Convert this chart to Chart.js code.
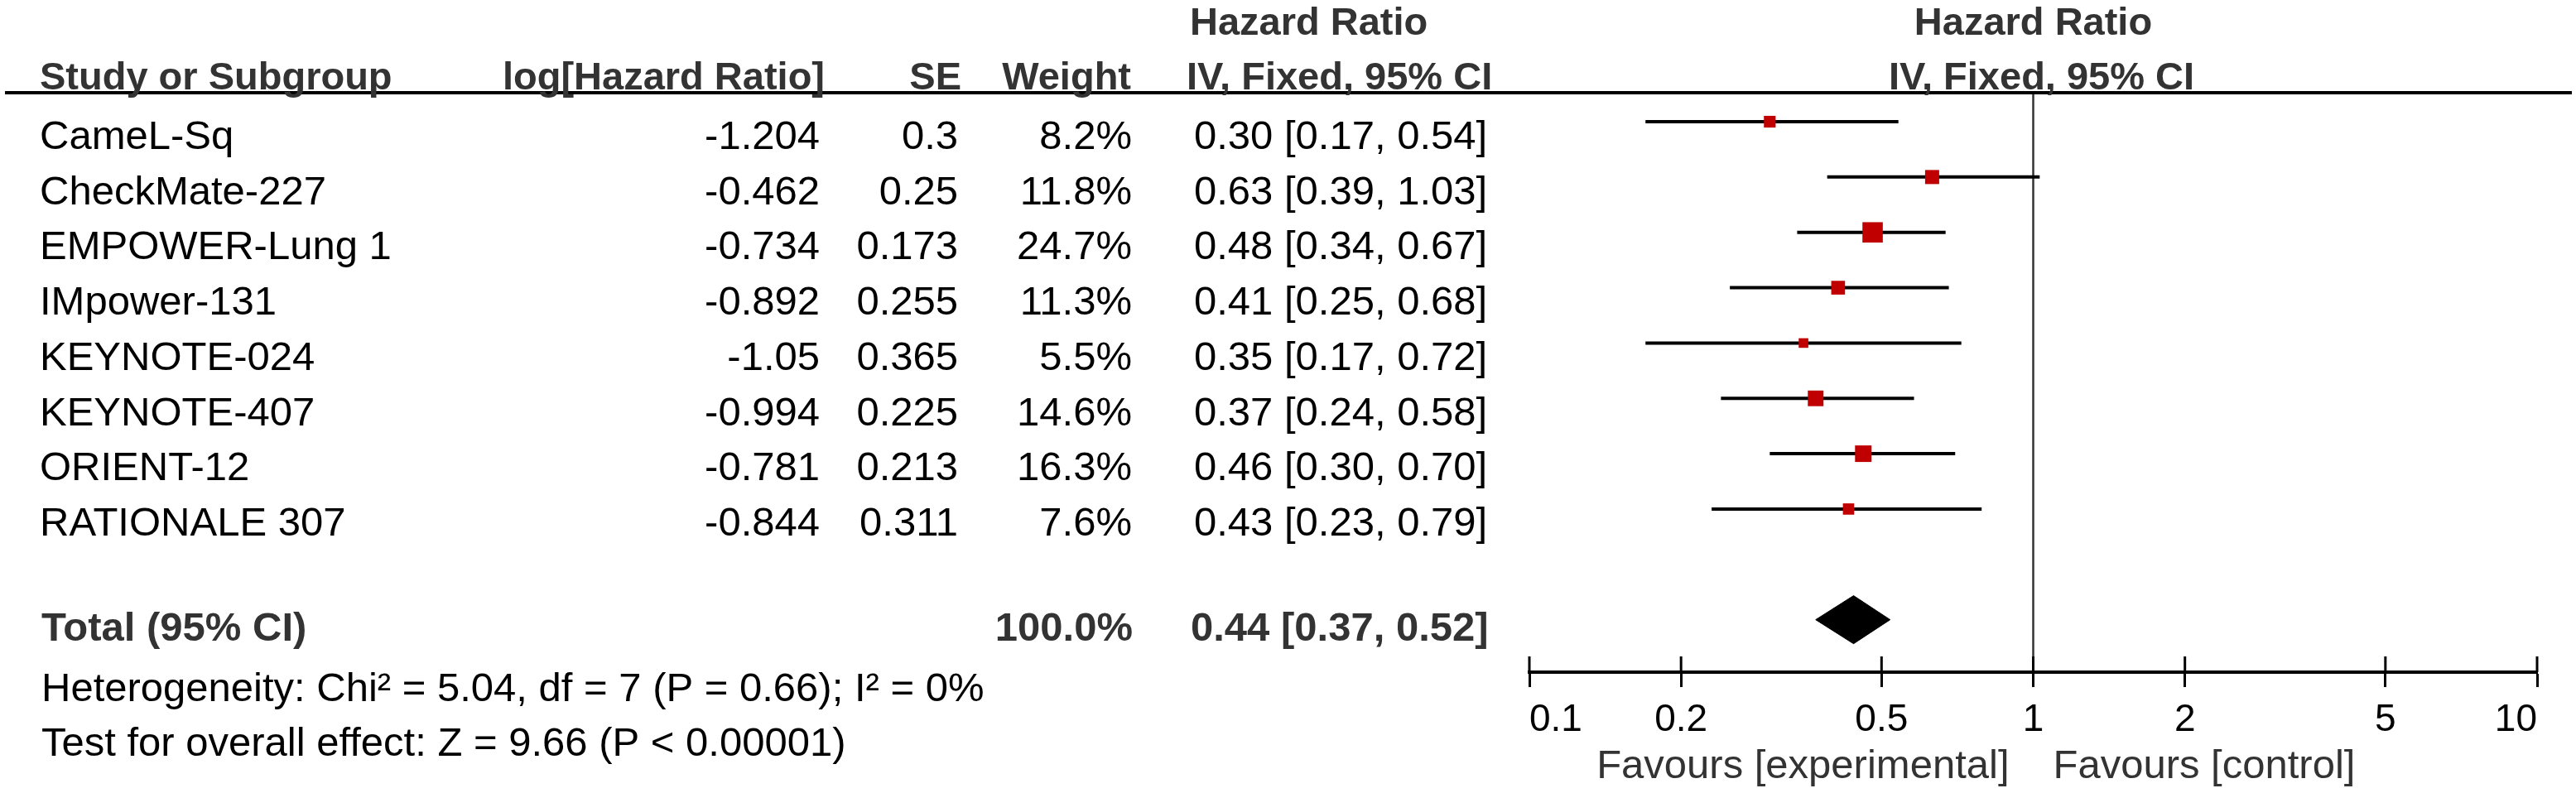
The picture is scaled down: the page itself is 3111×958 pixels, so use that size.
<!DOCTYPE html>
<html>
<head>
<meta charset="utf-8">
<script src="https://cdn.jsdelivr.net/npm/chart.js@4"></script>
<style>
  html, body { margin: 0; padding: 0; background: #fff; }
  #forest { display: block; }
</style>
</head>
<body>
<canvas id="forest" width="3111" height="958" style="width:3111px;height:958px"></canvas>
<script>
// study data
const studies = ["CameL-Sq", "CheckMate-227", "EMPOWER-Lung 1", "IMpower-131", "KEYNOTE-024", "KEYNOTE-407", "ORIENT-12", "RATIONALE 307"]
const logHR = [-1.204, -0.462, -0.734, -0.892, -1.05, -0.994, -0.781, -0.844]
const seVals = [0.3, 0.25, 0.173, 0.255, 0.365, 0.225, 0.213, 0.311]
const weights = [8.2, 11.8, 24.7, 11.3, 5.5, 14.6, 16.3, 7.6]
const hrVals = [0.30, 0.63, 0.48, 0.41, 0.35, 0.37, 0.46, 0.43]
const ciLow = [0.17, 0.39, 0.34, 0.25, 0.17, 0.24, 0.30, 0.23]
const ciHigh = [0.54, 1.03, 0.67, 0.68, 0.72, 0.58, 0.70, 0.79]
const totalHR = 0.44
const totalLow = 0.37
const totalHigh = 0.52
const totalWeight = 100.0
const heterogeneity = "Heterogeneity: Chi² = 5.04, df = 7 (P = 0.66); I² = 0%"
const overallTest = "Test for overall effect: Z = 9.66 (P < 0.00001)"
const tickValues = [0.1, 0.2, 0.5, 1, 2, 5, 10]
const tickLabels = ["0.1", "0.2", "0.5", "1", "2", "5", "10"]

const FONT = "'Liberation Sans', Arial, sans-serif"
const rowPos = studies.map((s, i) => i + 1)
const totalRow = 10
const yMin = 0.491
const yMax = 10.948
const diamondHalf = 0.434 // half height of the summary diamond, in row units

const fmt2 = v => v.toFixed(2)

// table text, header rule and the upper halves of the axis ticks
const tablePlugin = {
    id: "table",
    afterDraw(chart) {
        const ctx = chart.ctx
        const xs = chart.scales.x
        const x1 = xs.getPixelForValue(1)
        ctx.save()

        ctx.strokeStyle = "#000"
        ctx.lineWidth = 4
        ctx.beginPath()
        ctx.moveTo(6, 112)
        ctx.lineTo(3106, 112)
        ctx.stroke()

        ctx.lineWidth = 3
        tickValues.forEach(v => {
            const px = xs.getPixelForValue(v)
            ctx.beginPath()
            ctx.moveTo(px, xs.top - 19)
            ctx.lineTo(px, xs.top)
            ctx.stroke()
        })

        // headers
        ctx.fillStyle = "#333"
        ctx.font = "bold 47px " + FONT
        ctx.textBaseline = "alphabetic"
        ctx.textAlign = "left"
        ctx.fillText("Study or Subgroup", 48, 108)
        ctx.fillText("Hazard Ratio", 1437, 42)
        ctx.fillText("IV, Fixed, 95% CI", 1433, 108)
        ctx.textAlign = "right"
        ctx.fillText("log[Hazard Ratio]", 996, 108)
        ctx.fillText("SE", 1161, 108)
        ctx.fillText("Weight", 1366, 108)
        ctx.textAlign = "center"
        ctx.fillText("Hazard Ratio", x1, 42)
        ctx.fillText("IV, Fixed, 95% CI", x1 + 10, 108)

        // study rows
        ctx.fillStyle = "#000"
        ctx.font = "49px " + FONT
        studies.forEach((name, i) => {
            const y = 180 + i * 66.7
            ctx.textAlign = "left"
            ctx.fillText(name, 48, y)
            ctx.fillText(fmt2(hrVals[i]) + " [" + fmt2(ciLow[i]) + ", " + fmt2(ciHigh[i]) + "]", 1442, y)
            ctx.textAlign = "right"
            ctx.fillText(String(logHR[i]), 990, y)
            ctx.fillText(String(seVals[i]), 1157, y)
            ctx.fillText(weights[i].toFixed(1) + "%", 1367, y)
        })

        // total row
        ctx.fillStyle = "#333"
        ctx.font = "bold 49px " + FONT
        ctx.textAlign = "left"
        ctx.fillText("Total (95% CI)", 50, 774)
        ctx.fillText(fmt2(totalHR) + " [" + fmt2(totalLow) + ", " + fmt2(totalHigh) + "]", 1438, 774)
        ctx.textAlign = "right"
        ctx.fillText(totalWeight.toFixed(1) + "%", 1368, 774)

        ctx.fillStyle = "#000"
        ctx.font = "49px " + FONT
        ctx.textAlign = "left"
        ctx.fillText(heterogeneity, 50, 847)
        ctx.fillText(overallTest, 50, 913)

        // favours labels
        ctx.fillStyle = "#333"
        ctx.font = "49px " + FONT
        ctx.textAlign = "right"
        ctx.fillText("Favours [experimental]", x1 - 29, 940)
        ctx.textAlign = "left"
        ctx.fillText("Favours [control]", x1 + 24, 940)

        ctx.restore()
    }
}

const squareSet = {
    type: "scatter",
    data: hrVals.map((v, i) => ({ x: v, y: rowPos[i] })),
    pointStyle: "rect",
    backgroundColor: "#C00000",
    borderColor: "#C00000",
    borderWidth: 0,
    pointRadius: ctx => 4.95 * Math.sqrt(weights[ctx.dataIndex]) / Math.SQRT2,
    pointHoverRadius: ctx => 4.95 * Math.sqrt(weights[ctx.dataIndex]) / Math.SQRT2
}

const ciSets = studies.map((s, i) => ({
    type: "line",
    data: [{ x: ciLow[i], y: rowPos[i] }, { x: ciHigh[i], y: rowPos[i] }],
    borderColor: "#000",
    borderWidth: 4,
    pointRadius: 0,
    fill: false
}))

const diamondSet = {
    type: "line",
    data: [
        { x: totalLow, y: totalRow },
        { x: totalHR, y: totalRow - diamondHalf },
        { x: totalHigh, y: totalRow },
        { x: totalHR, y: totalRow + diamondHalf },
        { x: totalLow, y: totalRow }
    ],
    borderColor: "#000",
    backgroundColor: "#000",
    borderWidth: 1,
    pointRadius: 0,
    tension: 0,
    fill: "shape"
}

const nullLine = {
    type: "line",
    data: [{ x: 1, y: yMin }, { x: 1, y: yMax }],
    borderColor: "#333",
    borderWidth: 2.5,
    pointRadius: 0,
    fill: false
}

const chart = new Chart(document.getElementById("forest"), {
    type: "scatter",
    data: {
        datasets: [squareSet, diamondSet, ...ciSets, nullLine]
    },
    options: {
        responsive: false,
        devicePixelRatio: 1,
        animation: false,
        events: [],
        layout: {
            padding: { left: 1847, right: 47, top: 113, bottom: 0 }
        },
        plugins: {
            legend: { display: false },
            tooltip: { enabled: false },
            title: { display: false }
        },
        scales: {
            x: {
                type: "logarithmic",
                position: "bottom",
                min: 0.1,
                max: 10,
                afterBuildTicks: scale => {
                    scale.ticks = tickValues.map(v => ({ value: v }))
                },
                afterFit: scale => {
                    scale.height = 146
                },
                grid: {
                    display: true,
                    drawOnChartArea: false,
                    drawTicks: true,
                    tickLength: 18,
                    tickWidth: 3,
                    tickColor: "#000",
                    color: "#000"
                },
                border: { display: true, width: 4, color: "#000" },
                ticks: {
                    autoSkip: false,
                    maxRotation: 0,
                    align: "inner",
                    padding: 13,
                    color: "#000",
                    font: { size: 46, family: FONT },
                    callback: (v, i) => tickLabels[i]
                }
            },
            y: {
                type: "linear",
                display: false,
                reverse: true,
                min: yMin,
                max: yMax
            }
        }
    },
    plugins: [tablePlugin]
})
</script>
</body>
</html>
